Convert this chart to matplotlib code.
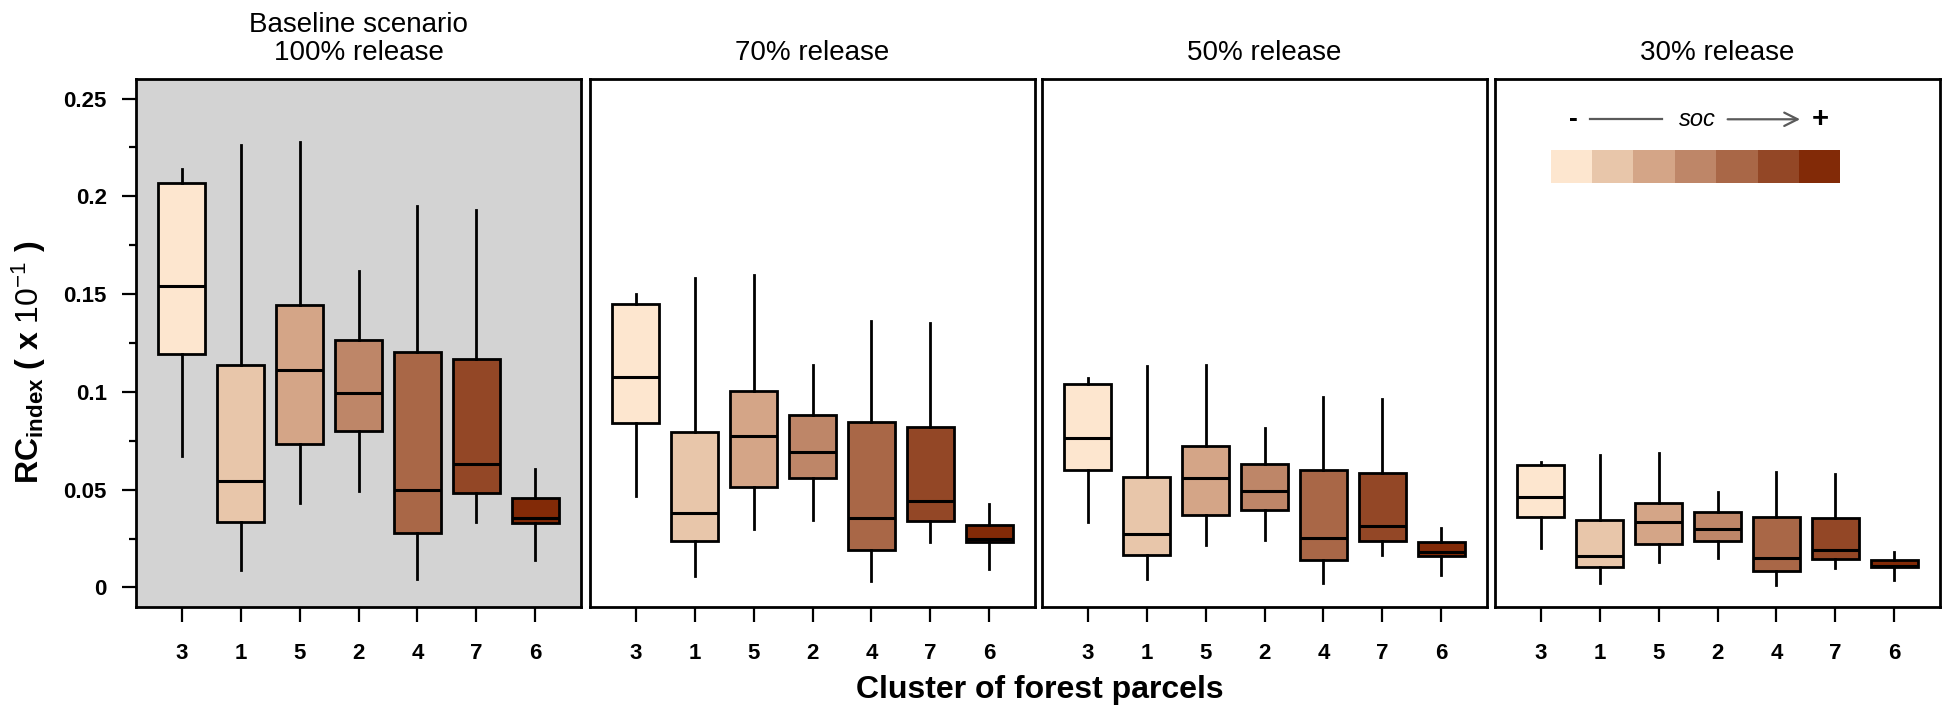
import matplotlib.pyplot as plt
import numpy as np

plt.rcParams['font.family'] = ['Liberation Sans', 'DejaVu Sans']
plt.rcParams['mathtext.fontset'] = 'custom'
plt.rcParams['mathtext.rm'] = 'Liberation Sans'
plt.rcParams['mathtext.it'] = 'Liberation Sans:italic'
plt.rcParams['mathtext.bf'] = 'Liberation Sans:bold'

clusters = ['3', '1', '5', '2', '4', '7', '6']
scenarios = ['Baseline scenario\n100% release', '70% release', '50% release', '30% release']
soc_colors = ['#FDE6CF', '#E8C6AA', '#D4A587', '#BE8668', '#A96747', '#934726', '#822A07']

# box summaries per scenario (rows) and cluster (columns, order as above)
whisk_lo = [[0.0672, 0.0088, 0.0430, 0.0493, 0.0044, 0.0333, 0.0141],
            [0.0469, 0.0058, 0.0301, 0.0347, 0.0032, 0.0233, 0.0093],
            [0.0333, 0.0044, 0.0216, 0.0245, 0.0022, 0.0165, 0.0063],
            [0.0200, 0.0024, 0.0128, 0.0151, 0.0015, 0.0100, 0.0037]]
box_q1 = [[0.1195, 0.0337, 0.0735, 0.0799, 0.0279, 0.0483, 0.0330],
          [0.0842, 0.0236, 0.0513, 0.0559, 0.0192, 0.0340, 0.0233],
          [0.0602, 0.0166, 0.0370, 0.0398, 0.0139, 0.0238, 0.0163],
          [0.0360, 0.0102, 0.0223, 0.0240, 0.0083, 0.0148, 0.0102]]
box_med = [[0.1539, 0.0542, 0.1114, 0.0993, 0.0500, 0.0631, 0.0357],
           [0.1078, 0.0381, 0.0776, 0.0695, 0.0354, 0.0440, 0.0250],
           [0.0763, 0.0275, 0.0558, 0.0495, 0.0252, 0.0316, 0.0180],
           [0.0461, 0.0163, 0.0333, 0.0299, 0.0153, 0.0192, 0.0110]]
box_q3 = [[0.2066, 0.1136, 0.1442, 0.1265, 0.1202, 0.1170, 0.0457],
          [0.1449, 0.0794, 0.1007, 0.0881, 0.0845, 0.0821, 0.0319],
          [0.1039, 0.0566, 0.0721, 0.0629, 0.0602, 0.0587, 0.0231],
          [0.0624, 0.0343, 0.0434, 0.0384, 0.0360, 0.0354, 0.0139]]
whisk_hi = [[0.2139, 0.2260, 0.2279, 0.1619, 0.1951, 0.1930, 0.0607],
            [0.1502, 0.1583, 0.1597, 0.1136, 0.1364, 0.1354, 0.0425],
            [0.1073, 0.1131, 0.1139, 0.0813, 0.0976, 0.0962, 0.0303],
            [0.0643, 0.0677, 0.0685, 0.0488, 0.0588, 0.0582, 0.0182]]

fig = plt.figure(figsize=(19.46, 7.12), dpi=100)
lefts = [136, 590, 1042, 1495]
axes = []
for k in range(4):
    ax = fig.add_axes([lefts[k] / 1946, 105 / 712, 445 / 1946, 528 / 712])
    axes.append(ax)
    stats = []
    for j in range(7):
        stats.append(dict(whislo=whisk_lo[k][j], q1=box_q1[k][j], med=box_med[k][j],
                          q3=box_q3[k][j], whishi=whisk_hi[k][j], fliers=[]))
    pos = np.arange(1, 8)
    bp = ax.bxp(stats, positions=pos, widths=0.8, patch_artist=True, showcaps=False,
                boxprops=dict(linewidth=2.0, edgecolor='black'),
                whiskerprops=dict(linewidth=2.0, color='black'),
                medianprops=dict(linewidth=2.2, color='black'))
    for patch, c in zip(bp['boxes'], soc_colors):
        patch.set_facecolor(c)
    ax.set_xlim(0.22, 7.78)
    ax.set_ylim(-0.01, 0.26)
    ax.set_xticks(pos)
    ax.set_xticklabels(clusters, fontsize=16, fontweight='bold')
    ax.tick_params(axis='x', length=11, width=1.6, pad=15)
    for s in ax.spines.values():
        s.set_linewidth(2.0)
    ax.set_title(scenarios[k], fontsize=20, pad=14, linespacing=1.1)
    if k == 0:
        ax.set_facecolor('#D3D3D3')
        ax.set_yticks([0, 0.05, 0.1, 0.15, 0.2, 0.25])
        ax.set_yticklabels(['0', '0.05', '0.1', '0.15', '0.2', '0.25'], fontsize=16, fontweight='bold')
        ax.set_yticks(np.arange(0.025, 0.25, 0.05), minor=True)
        ax.tick_params(axis='y', which='major', length=10, width=1.6, pad=11)
        ax.tick_params(axis='y', which='minor', length=5, width=1.6)
    else:
        ax.set_yticks([])

# colour key in last panel
ax = axes[3]
key_w = 0.703
key_x = 1.166 + key_w * (np.arange(7) + 0.5)
ax.bar(key_x, 0.0168, bottom=0.2068, width=key_w, color=soc_colors, linewidth=0)
ax.text(1.544, 0.2394, '-', fontsize=19, fontweight='bold', ha='center', va='center')
ax.plot([1.833, 3.056], [0.2394, 0.2394], color='#5a5a5a', lw=1.6)
ax.text(3.65, 0.2394, 'soc', fontsize=17, style='italic', ha='center', va='center')
ax.annotate('', xy=(5.45, 0.2394), xytext=(4.125, 0.2394),
            arrowprops=dict(arrowstyle='->', color='#5a5a5a', lw=1.6, mutation_scale=24))
ax.text(5.74, 0.2394, '+', fontsize=21, fontweight='bold', ha='center', va='center')

fig.text(1040 / 1946, 1 - 690 / 712, 'Cluster of forest parcels', fontsize=23,
         fontweight='bold', ha='center', va='center')
fig.text(48 / 1946, 1 - 362 / 712, r'$\mathbf{RC_{index}\ (\ x\ }\mathrm{10^{-1}}\mathbf{\ )}$',
         fontsize=23, rotation=90, ha='right', va='center')

fig.savefig('out.png', dpi=100)
